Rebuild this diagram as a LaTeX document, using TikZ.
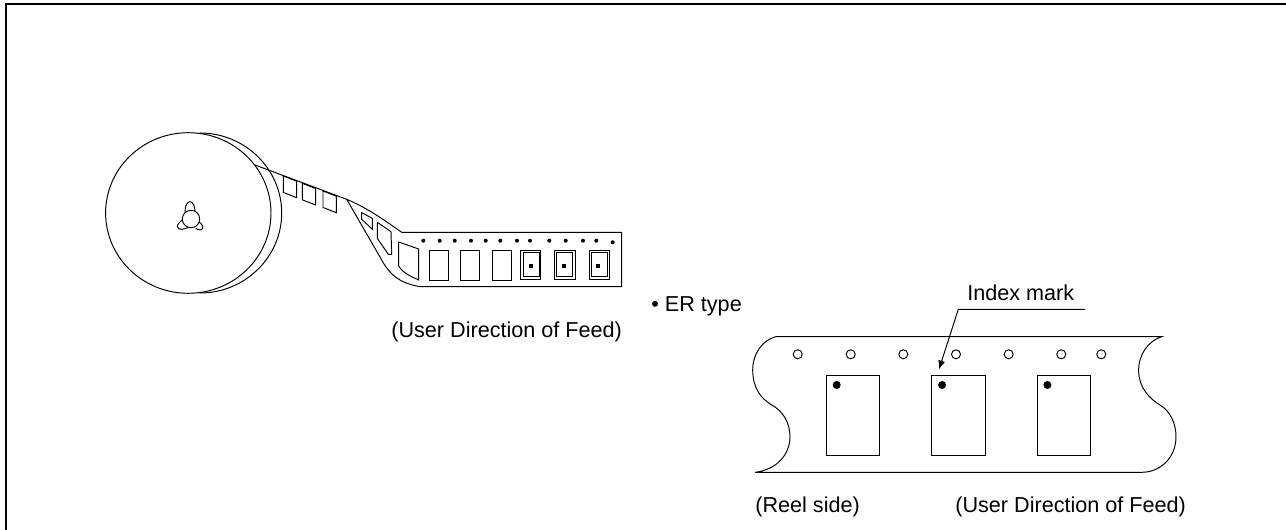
\documentclass[tikz,border=0pt]{standalone}
\usepackage{fontspec}
\usetikzlibrary{arrows.meta}
\setmainfont{Liberation Sans}
\tikzset{
    part/.style={line width=0.55pt, black},
    blackdot/.style={fill=black},
    caption/.style={font=\fontsize{12.3}{14}\selectfont, inner sep=0pt, anchor=base west}
}

\begin{document}
\begin{tikzpicture}[x=0.02cm, y=-0.02cm]
    \useasboundingbox (0,0) rectangle (1286,530);
    \draw[line width=1.1pt] (6,530) -- (6,4) -- (1286,4);
    % reel
    \draw[part] (200,133) .. controls (245,133) and (281.7,169) .. (281.7,213) .. controls (281.7,257) and (245,293) .. (200,293);
    \draw[part] (188.3,213) ellipse[x radius=82.7, y radius=80.3];
    \draw[part] (185,212) .. controls (185,206) and (187,201.7) .. (190,201.7) .. controls (193,201.7) and (195,206) .. (195,212);
    \draw[part] (183.3,219) .. controls (180,222) and (177.3,224) .. (177.3,226.5) .. controls (177.3,229) and (180,229.5) .. (182,229.3) .. controls (185,229) and (187,228) .. (188.3,227.3);
    \draw[part] (195.7,228.3) .. controls (197,229.5) and (199,230) .. (201,230) .. controls (203,229.5) and (203,227) .. (202.7,226) .. controls (202,224) and (200,222.5) .. (198.3,221.7);
    \draw[part, fill=white] (191,219) circle (8.7);
    % tape leaving the reel
    \draw[part] (255,165) -- (346.7,199.3) .. controls (365,207) and (380,217) .. (401.7,232.3) -- (621.7,232.3) -- (621.7,286.7) -- (420,286.7) .. controls (400,283) and (390,276) .. (380,257) -- (346.7,199.3);
    \foreach \x/\y in {283.3/176, 302.3/183.3, 323/191} {
        \draw[part] (\x,\y) -- ++(13.4,5.2) -- ++(0,16.5) -- ++(-13.4,-5.2) -- cycle;
    }
    \draw[part] (361.7,212.7) -- (372.3,218.3) -- (372.3,229.3) -- (361.7,219.3) -- cycle;
    \draw[part] (377.3,222.3) -- (391,231.7) -- (391.7,254.3) -- (388.3,254.3) -- (377.3,238.3) -- cycle;
    \draw[part] (398.7,242) -- (418.7,249) -- (418.7,280) .. controls (410,276) and (403,273) .. (398.7,266) -- cycle;
    \foreach \x in {429.3,460.7,492.3} {\draw[part] (\x,250) rectangle ++(19,30);}
    \foreach \x/\w in {520.3/20.4, 554.7/20.3, 589.3/19.7} {\draw[part] (\x,250) rectangle ++(\w,29.3);}
    \foreach \x/\w in {523.3/15.7, 556.3/16, 591/16.3} {\draw[part] (\x,252.3) rectangle ++(\w,24.4);}
    \foreach \x in {531,564,598} {\fill (\x-2,264) rectangle ++(4,4);}
    \foreach \x in {423.3,439.7,454.7,471,485.7,500.3,517,530,549.3,565.7,583,596.3} {\fill[blackdot] (\x,240.7) circle (2);}
    \fill[blackdot] (612.7,242.3) circle (2);
    % flat tape
    \draw[part] (775.7,336.7) -- (1161.7,336.7) .. controls (1148,341) and (1138,355) .. (1138.7,371.7) .. controls (1139,388) and (1150,399) .. (1160,405) .. controls (1170,411) and (1176,423) .. (1176,436.7) .. controls (1176,458) and (1160,472.3) .. (1141.7,472.3) -- (755,472.3) .. controls (776,470) and (790,455) .. (790,436.7) .. controls (790,423) and (783,411) .. (771.7,405) .. controls (760,398) and (752.7,387) .. (752.7,370) .. controls (752.7,353) and (763,340) .. (775.7,336.7);
    \foreach \x in {797.7,850.7,903.3,956,1008.7,1061.3,1101.3} {\draw[part] (\x,354.3) circle (4.5);}
    \foreach \x in {826.3,931.7,1037} {
        \draw[part] (\x,375.3) rectangle ++(53.3,79.7);
        \fill[blackdot] (\x+10.4,385) circle (4);
    }
    % labels
    \node[caption] (legend) at (651,311.7) {• ER type};
    \node[caption] (feedtop) at (391,338) {(User Direction of Feed)};
    \node[caption] (indexlabel) at (967,300.7) {Index mark};
    \node[caption] (reelside) at (755,512.7) {(Reel side)};
    \node[caption] (feedbottom) at (955,512.7) {(User Direction of Feed)};
    \coordinate (leaderend) at (1085,309.3);
    \coordinate (leaderknee) at (958.3,309.3);
    \coordinate (indextip) at (939,369.3);
    \draw[part, -{Latex[length=5pt, width=4pt]}] (leaderend) -- (leaderknee) -- (indextip);
\end{tikzpicture}
\end{document}
